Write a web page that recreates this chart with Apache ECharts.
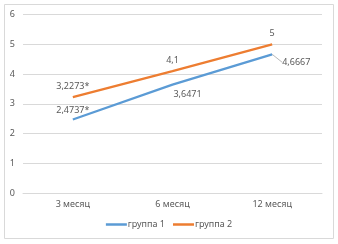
<!DOCTYPE html>
<html>
<head>
<meta charset="utf-8">
<script src="https://cdn.jsdelivr.net/npm/echarts@6/dist/echarts.min.js"></script>
<style>
  html, body { margin: 0; padding: 0; background: #fff; }
  #chart { width: 338px; height: 244px; }
</style>
</head>
<body>
<div id="chart"></div>
<script>
// данные графика
const categories = ['3 месяц', '6 месяц', '12 месяц'];
const group1 = [2.4737, 3.6471, 4.6667];
const group2 = [3.2273, 4.1, 5];
const group1Labels = ['2,4737*', '3,6471', '4,6667'];
const group2Labels = ['3,2273*', '4,1', '5'];
const yTicks = [0, 1, 2, 3, 4, 5, 6];

const textColor = '#595959';
const fontFamily = "'Liberation Sans Narrow', 'Noto Sans', sans-serif";

const chart = echarts.init(document.getElementById('chart'));

// позиции подписей для первой группы
const g1Pos = [
  { position: 'top', distance: 5 },
  { position: 'bottom', distance: 4 },
  { position: 'right', distance: 2 }
];

const option = {
  animation: false,
  textStyle: { fontFamily: fontFamily },
  graphic: [{
    type: 'rect',
    shape: { x: 4.5, y: 4.5, width: 329, height: 234 },
    style: { fill: 'none', stroke: '#d9d9d9', lineWidth: 1 },
    silent: true
  }],
  grid: { left: 23, right: 16, top: 14.7, bottom: 51 },
  legend: {
    bottom: 10,
    left: 'center',
    icon: 'rect',
    itemWidth: 21,
    itemHeight: 2.5,
    itemGap: 8,
    textStyle: { color: textColor, fontSize: 9, fontFamily: fontFamily, padding: [0, 0, 0, -4] },
    data: ['группа 1', 'группа 2']
  },
  xAxis: {
    type: 'category',
    data: categories,
    boundaryGap: true,
    axisLine: { show: true, lineStyle: { color: '#d9d9d9' } },
    axisTick: { show: false },
    axisLabel: { color: textColor, fontSize: 9, margin: 7 }
  },
  yAxis: {
    type: 'value',
    min: yTicks[0],
    max: yTicks[yTicks.length - 1],
    interval: 1,
    axisLine: { show: false },
    axisTick: { show: false },
    axisLabel: { color: textColor, fontSize: 9, margin: 8 },
    splitLine: { lineStyle: { color: '#d9d9d9' } }
  },
  series: [
    {
      name: 'группа 1',
      type: 'line',
      data: group1.map((v, i) => ({
        value: v,
        label: Object.assign({
          show: true,
          color: textColor,
          fontSize: 9,
          formatter: () => group1Labels[i]
        }, g1Pos[i]),
        labelLine: i === 2 ? { show: true, lineStyle: { color: '#a6a6a6', width: 0.8 } } : { show: false }
      })),
      symbol: 'circle',
      symbolSize: 0.1,
      showSymbol: true,
      lineStyle: { color: '#5B9BD5', width: 2.25 },
      itemStyle: { color: '#5B9BD5' },
      labelLayout: function (params) {
        if (params.dataIndex === 2) {
          return { dx: 8, dy: 8 };
        }
        if (params.dataIndex === 1) {
          return { dx: 15, dy: 1 };
        }
      }
    },
    {
      name: 'группа 2',
      type: 'line',
      data: group2.map((v, i) => ({
        value: v,
        label: {
          show: true,
          position: 'top',
          distance: 6,
          color: textColor,
          fontSize: 9,
          formatter: () => group2Labels[i]
        }
      })),
      symbol: 'circle',
      symbolSize: 0.1,
      showSymbol: true,
      lineStyle: { color: '#ED7D31', width: 2.25 },
      itemStyle: { color: '#ED7D31' }
    }
  ]
};

chart.setOption(option);

window.addEventListener('resize', () => {
  chart.resize();
});
</script>
</body>
</html>
